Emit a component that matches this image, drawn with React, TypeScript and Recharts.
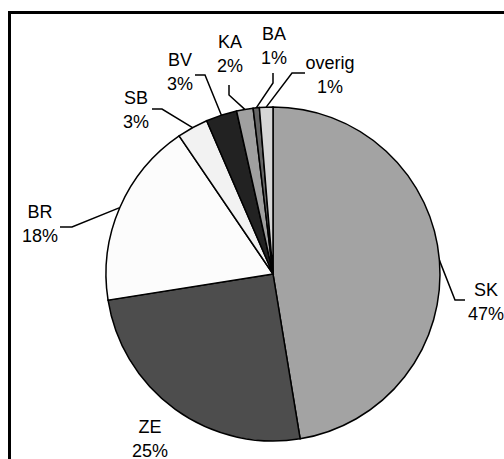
import React from 'react';
import { PieChart, Pie, Cell } from 'recharts';

// share per category, clockwise from 12 o'clock
const categories = ['SK', 'ZE', 'BR', 'SB', 'BV', 'KA', 'BA', 'overig'];
const shares = [47.4, 25.1, 18.0, 3.0, 3.0, 1.6, 0.6, 1.3];
const sliceColors = ['#a3a3a3', '#4d4d4d', '#fcfcfc', '#f2f2f2', '#222222', '#a0a0a0', '#666666', '#d6d6d6'];

const data = categories.map((name, i) => ({ name, value: shares[i] }));

// label placement relative to pie centre (Excel-style, hand placed)
type LabelPos = { elbow?: [number, number]; tail?: [number, number]; text: [number, number] };
const labelLayout: LabelPos[] = [
  { elbow: [182, 26], tail: [192, 26], text: [213, 16] },
  { text: [-123, 153] },
  { elbow: [-201, -47], tail: [-213, -47], text: [-233, -62] },
  { elbow: [-111, -165], tail: [-121, -165], text: [-137, -176] },
  { elbow: [-68, -199], tail: [-78, -199], text: [-93, -214] },
  { elbow: [-44, -179], tail: [-44, -189], text: [-43, -232] },
  { elbow: [0, -191], tail: [0, -201], text: [1, -240] },
  { elbow: [19, -201], tail: [32, -201], text: [57, -211] },
];

const RAD = Math.PI / 180;

const renderLabel = (props: any) => {
  const { cx, cy, midAngle, outerRadius, index, percent, name } = props;
  const lay = labelLayout[index];
  const sx = cx + outerRadius * Math.cos(-midAngle * RAD);
  const sy = cy + outerRadius * Math.sin(-midAngle * RAD);
  const tx = cx + lay.text[0];
  const ty = cy + lay.text[1];
  return (
    <g>
      {lay.elbow && lay.tail && (
        <polyline
          points={`${sx},${sy} ${cx + lay.elbow[0]},${cy + lay.elbow[1]} ${cx + lay.tail[0]},${cy + lay.tail[1]}`}
          fill="none"
          stroke="#000"
          strokeWidth={1.5}
        />
      )}
      <text x={tx} y={ty} textAnchor="middle" dominantBaseline="central" fontSize={18} fill="#000">
        {name}
      </text>
      <text x={tx} y={ty + 24} textAnchor="middle" dominantBaseline="central" fontSize={18} fill="#000">
        {Math.round(percent * 100)}%
      </text>
    </g>
  );
};

export default function App() {
  return (
    <div
      style={{
        position: 'fixed',
        left: 0,
        top: 0,
        width: 504,
        height: 459,
        overflow: 'hidden',
        background: '#fff',
        fontFamily: '"Liberation Sans", Arial, sans-serif',
      }}
    >
      <div
        style={{
          position: 'absolute',
          left: 8,
          top: 11,
          width: 600,
          height: 600,
          border: '3px solid #000',
        }}
      />
      <div style={{ position: 'absolute', left: 0, top: 0 }}>
        <PieChart width={504} height={459}>
          <Pie
            data={data}
            dataKey="value"
            nameKey="name"
            cx={268}
            cy={269}
            outerRadius={167}
            startAngle={90}
            endAngle={-270}
            stroke="#000"
            strokeWidth={1.5}
            label={renderLabel}
            labelLine={false}
            isAnimationActive={false}
          >
            {data.map((d, i) => (
              <Cell key={d.name} fill={sliceColors[i]} />
            ))}
          </Pie>
        </PieChart>
      </div>
    </div>
  );
}
